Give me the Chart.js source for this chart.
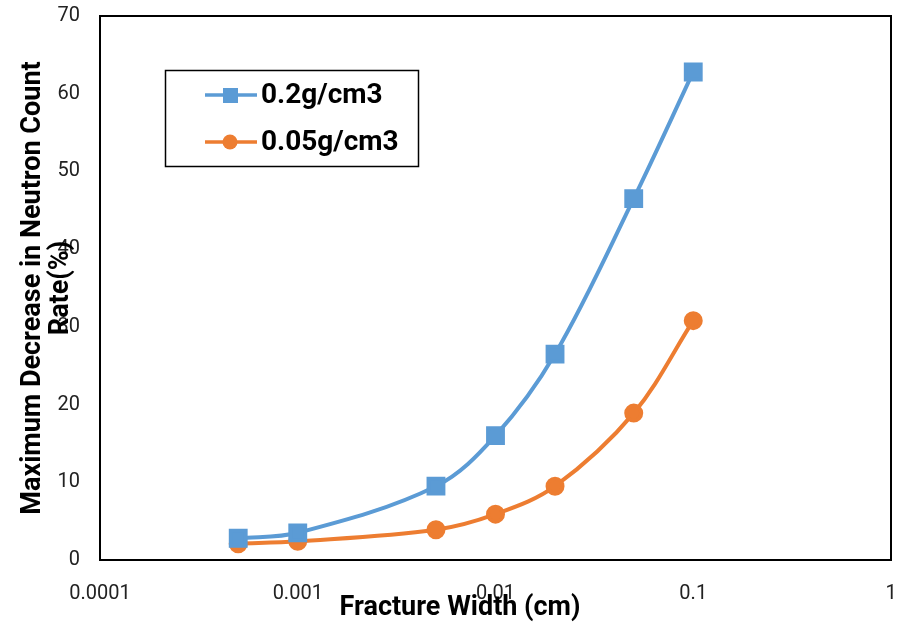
<!DOCTYPE html>
<html>
<head>
<meta charset="utf-8">
<script src="https://cdn.jsdelivr.net/npm/chart.js@4/dist/chart.umd.min.js"></script>
<style>
  html, body { margin: 0; padding: 0; background: #fff; }
</style>
</head>
<body>
<canvas id="myChart" width="898" height="626"></canvas>
<script>
let widths = [0.0005, 0.001, 0.005, 0.01, 0.02, 0.05, 0.1];
let dense02 = [2.8, 3.5, 9.5, 16.0, 26.5, 46.5, 62.8];
let dense005 = [2.1, 2.4, 3.9, 5.9, 9.5, 18.9, 30.8];
let xTicks = [0.0001, 0.001, 0.01, 0.1, 1];
let yTicks = [0, 10, 20, 30, 40, 50, 60, 70];

let font = "Roboto, 'Open Sans', sans-serif";

function noPad(scale) {
    scale.paddingLeft = 0;
    scale.paddingRight = 0;
    scale.paddingTop = 0;
    scale.paddingBottom = 0;
}

// axis titles + legend box drawn by hand so they sit like in the Excel picture
let extras = {
    id: "extras",
    afterDraw(chart) {
        let ctx = chart.ctx;
        ctx.save();
        ctx.fillStyle = "#000";
        ctx.font = "bold 27px " + font;
        ctx.textAlign = "center";
        ctx.textBaseline = "middle";
        ctx.fillText("Fracture Width (cm)", 460, 608);
        ctx.translate(33, 288);
        ctx.rotate(-Math.PI / 2);
        ctx.fillText("Maximum Decrease in Neutron Count", 0, 0);
        ctx.fillText("Rate(%)", 0, 28);
        ctx.restore();

        // legend
        ctx.save();
        ctx.strokeStyle = "#000";
        ctx.lineWidth = 1.5;
        ctx.strokeRect(165.5, 70.5, 253, 96);
        let rows = [95, 142];
        chart.data.datasets.forEach((ds, i) => {
            let y = rows[i];
            ctx.strokeStyle = ds.borderColor;
            ctx.lineWidth = 3.5;
            ctx.beginPath();
            ctx.moveTo(205, y);
            ctx.lineTo(257, y);
            ctx.stroke();
            ctx.fillStyle = ds.backgroundColor;
            if (ds.pointStyle === "rect") {
                ctx.fillRect(223, y - 7, 15, 15);
            } else {
                ctx.beginPath();
                ctx.arc(230, y, 7.5, 0, Math.PI * 2);
                ctx.fill();
            }
            ctx.fillStyle = "#000";
            ctx.font = "bold 28px " + font;
            ctx.textAlign = "left";
            ctx.textBaseline = "middle";
            ctx.fillText(ds.label, 261, y + 1);
        });
        ctx.restore();

        // plot frame
        let a = chart.chartArea;
        ctx.save();
        ctx.strokeStyle = "#000";
        ctx.lineWidth = 2;
        ctx.strokeRect(a.left, a.top, a.right - a.left, a.bottom - a.top);
        ctx.restore();
    }
};

let ctx = document.getElementById("myChart").getContext("2d");
let myChart = new Chart(ctx, {
    type: "line",
    data: {
        datasets: [{
            label: "0.2g/cm3",
            data: widths.map((w, i) => ({ x: w, y: dense02[i] })),
            borderColor: "#5B9BD5",
            backgroundColor: "#5B9BD5",
            borderWidth: 4,
            pointStyle: "rect",
            pointRadius: 10.5,
            pointHoverRadius: 10.5,
            tension: 0.35
        }, {
            label: "0.05g/cm3",
            data: widths.map((w, i) => ({ x: w, y: dense005[i] })),
            borderColor: "#ED7D31",
            backgroundColor: "#ED7D31",
            borderWidth: 4,
            pointStyle: "circle",
            pointRadius: 7.5,
            pointHoverRadius: 7.5,
            tension: 0.35
        }]
    },
    options: {
        responsive: false,
        animation: false,
        layout: { autoPadding: false, padding: { top: 16, right: 7, left: 0, bottom: 0 } },
        plugins: {
            legend: { display: false },
            tooltip: { enabled: false }
        },
        scales: {
            x: {
                type: "logarithmic",
                min: 0.0001,
                max: 1,
                afterBuildTicks: (scale) => {
                    scale.ticks = xTicks.map(v => ({ value: v }));
                },
                afterFit: (scale) => { scale.height = 66; noPad(scale); },
                grid: { display: false, drawTicks: false },
                border: { display: false },
                ticks: {
                    autoSkip: false,
                    maxRotation: 0,
                    padding: 22,
                    color: "#222",
                    font: { family: font, size: 20 },
                    callback: (v) => String(v)
                }
            },
            y: {
                min: 0,
                max: 70,
                afterBuildTicks: (scale) => {
                    scale.ticks = yTicks.map(v => ({ value: v }));
                },
                afterFit: (scale) => { scale.width = 100; noPad(scale); },
                grid: { display: false, drawTicks: false },
                border: { display: false },
                ticks: {
                    autoSkip: false,
                    padding: 20,
                    color: "#222",
                    font: { family: font, size: 20 }
                }
            }
        }
    },
    plugins: [extras]
});
</script>
</body>
</html>
